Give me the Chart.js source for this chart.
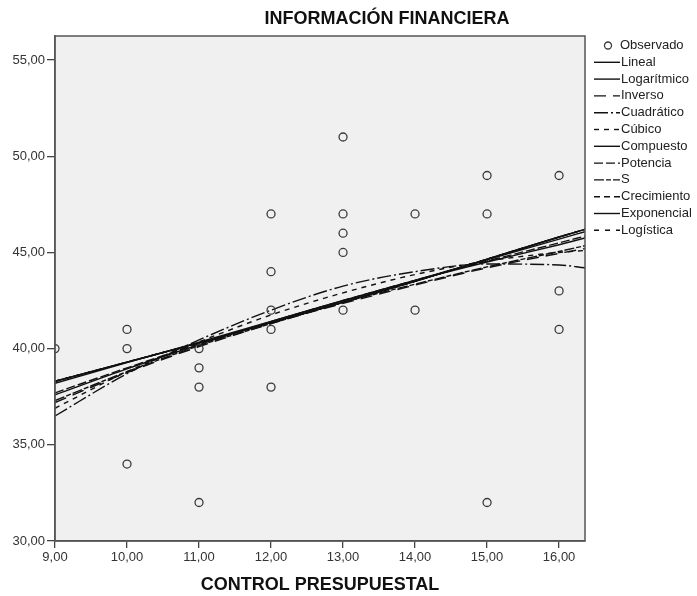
<!DOCTYPE html>
<html>
<head>
<meta charset="utf-8">
<script src="https://cdn.jsdelivr.net/npm/chart.js@4.4.1/dist/chart.umd.min.js"></script>
<style>
  html, body { margin: 0; padding: 0; background: #fff; }
  #wrap { width: 697px; height: 596px; }
</style>
</head>
<body>
<div id="wrap"><canvas id="chart" width="697" height="596"></canvas></div>
<script>
// Observed values
const obsX = [9, 10, 10, 10, 11, 11, 11, 11, 12, 12, 12, 12, 12, 13, 13, 13, 13, 13, 14, 14, 15, 15, 15, 16, 16, 16];
const obsY = [40, 41, 40, 34, 40, 39, 38, 32, 47, 44, 42, 41, 38, 51, 47, 46, 45, 42, 47, 42, 49, 47, 32, 49, 43, 41];

// Fitted curves at these x positions
const curveX = [9, 10, 11, 12, 13, 14, 15, 16, 16.36];
const lineal      = [38.2, 39.27, 40.34, 41.41, 42.48, 43.55, 44.62, 45.69, 46.08];
const logaritmico = [37.6, 38.95, 40.2, 41.4, 42.5, 43.55, 44.5, 45.4, 45.75];
const inverso     = [37.2, 38.75, 40.1, 41.3, 42.35, 43.3, 44.2, 44.95, 45.2];
const cuadratico  = [36.5, 38.7, 40.45, 42.0, 43.25, 44.0, 44.4, 44.35, 44.2];
const cubico      = [36.9, 38.8, 40.35, 41.75, 42.9, 43.85, 44.55, 45.0, 45.1];
const compuesto   = [38.3, 39.3, 40.3, 41.35, 42.4, 43.5, 44.65, 45.8, 46.2];
const potencia    = [37.7, 39.0, 40.25, 41.4, 42.5, 43.55, 44.55, 45.5, 45.85];
const curvaS      = [37.3, 38.8, 40.15, 41.3, 42.4, 43.35, 44.25, 45.05, 45.35];
const crecimiento = [38.3, 39.3, 40.3, 41.35, 42.4, 43.5, 44.65, 45.8, 46.2];
const exponencial = [38.3, 39.3, 40.3, 41.35, 42.4, 43.5, 44.65, 45.8, 46.2];
const logistica   = [38.3, 39.3, 40.3, 41.35, 42.4, 43.5, 44.65, 45.8, 46.2];

const yTicks = [30, 35, 40, 45, 50, 55];

const FONT = '"Liberation Sans", Arial, sans-serif';

function toPoints(xs, ys) {
  return xs.map((x, i) => ({ x: x, y: ys[i] }));
}

function curve(label, values, dash) {
  return {
    label,
    data: toPoints(curveX, values),
    showLine: true,
    borderColor: '#111',
    borderWidth: 1.4,
    borderDash: dash,
    pointRadius: 0,
    cubicInterpolationMode: 'monotone',
    fill: false
  };
}

const datasets = [
  {
    label: 'Observado',
    data: toPoints(obsX, obsY),
    pointStyle: 'circle',
    pointRadius: 4,
    pointBorderWidth: 1.3,
    pointBorderColor: '#3a3a3a',
    pointBackgroundColor: 'rgba(0,0,0,0)',
    showLine: false
  },
  curve('Lineal', lineal, []),
  curve('Logarítmico', logaritmico, []),
  curve('Inverso', inverso, [12, 7]),
  curve('Cuadrático', cuadratico, [14, 3, 2, 3]),
  curve('Cúbico', cubico, [5, 5]),
  curve('Compuesto', compuesto, []),
  curve('Potencia', potencia, [9, 3]),
  curve('S', curvaS, [10, 2, 5, 2]),
  curve('Crecimiento', crecimiento, [6, 4]),
  curve('Exponencial', exponencial, []),
  curve('Logística', logistica, [5, 6])
];

// Plot background + frame + title
const framePlugin = {
  id: 'frame',
  beforeDraw(chart) {
    const { ctx, chartArea: a } = chart;
    ctx.save();
    ctx.fillStyle = '#f0f0f0';
    ctx.fillRect(a.left, a.top, a.right - a.left, a.bottom - a.top);
    ctx.restore();
  },
  afterDraw(chart) {
    const { ctx, chartArea: a } = chart;
    ctx.save();
    ctx.strokeStyle = '#555';
    ctx.lineWidth = 1.5;
    ctx.strokeRect(a.left, a.top, a.right - a.left, a.bottom - a.top);

    ctx.fillStyle = '#111';
    ctx.font = 'bold 18px ' + FONT;
    ctx.textAlign = 'center';
    ctx.textBaseline = 'middle';
    ctx.fillText('INFORMACIÓN FINANCIERA', 387, 19);
    ctx.restore();
  }
};

// Legend drawn from the datasets (line samples keep their dash)
const legendPlugin = {
  id: 'sideLegend',
  afterDraw(chart) {
    const { ctx } = chart;
    const x0 = 594, lineLen = 26, rowH = 16.8, y0 = 45.5;
    ctx.save();
    ctx.font = '13px ' + FONT;
    ctx.textBaseline = 'middle';
    ctx.textAlign = 'left';
    chart.data.datasets.forEach((ds, i) => {
      const y = y0 + i * rowH;
      if (i === 0) {
        ctx.beginPath();
        ctx.arc(608, y, 3.5, 0, Math.PI * 2);
        ctx.strokeStyle = '#3a3a3a';
        ctx.lineWidth = 1.3;
        ctx.stroke();
        ctx.fillStyle = '#222';
        ctx.fillText(ds.label, 620, y);
        return;
      }
      ctx.beginPath();
      ctx.setLineDash(ds.borderDash || []);
      ctx.strokeStyle = '#111';
      ctx.lineWidth = 1.4;
      ctx.moveTo(x0, y);
      ctx.lineTo(x0 + lineLen, y);
      ctx.stroke();
      ctx.setLineDash([]);
      ctx.fillStyle = '#222';
      ctx.fillText(ds.label, 621, y);
    });
    ctx.restore();
  }
};

const fmt = v => Number(v).toFixed(2).replace('.', ',');

new Chart(document.getElementById('chart'), {
  type: 'scatter',
  data: { datasets },
  options: {
    responsive: false,
    animation: false,
    layout: { padding: { top: 36, right: 112, bottom: 0, left: 0 } },
    plugins: {
      legend: { display: false },
      tooltip: { enabled: false }
    },
    scales: {
      x: {
        type: 'linear',
        min: 9,
        max: 16.36,
        afterFit: axis => { axis.height = 55; },
        grid: { drawOnChartArea: false, drawTicks: true, tickLength: 7, color: '#444', lineWidth: 1.3 },
        border: { color: '#555', width: 1.5 },
        ticks: {
          stepSize: 1,
          includeBounds: false,
          padding: 2,
          color: '#333',
          font: { family: FONT, size: 13 },
          callback: fmt
        },
        title: {
          display: true,
          text: 'CONTROL PRESUPUESTAL',
          color: '#111',
          font: { family: FONT, size: 18, weight: 'bold' },
          padding: { top: 0, bottom: 0 }
        }
      },
      y: {
        type: 'linear',
        min: 30,
        max: 56.25,
        afterFit: axis => { axis.width = 55; },
        afterBuildTicks: axis => { axis.ticks = yTicks.map(v => ({ value: v })); },
        grid: { drawOnChartArea: false, drawTicks: true, tickLength: 8, color: '#444', lineWidth: 1.3 },
        border: { color: '#555', width: 1.5 },
        ticks: {
          padding: 2,
          color: '#333',
          font: { family: FONT, size: 13 },
          callback: fmt
        }
      }
    }
  },
  plugins: [framePlugin, legendPlugin]
});
</script>
</body>
</html>
